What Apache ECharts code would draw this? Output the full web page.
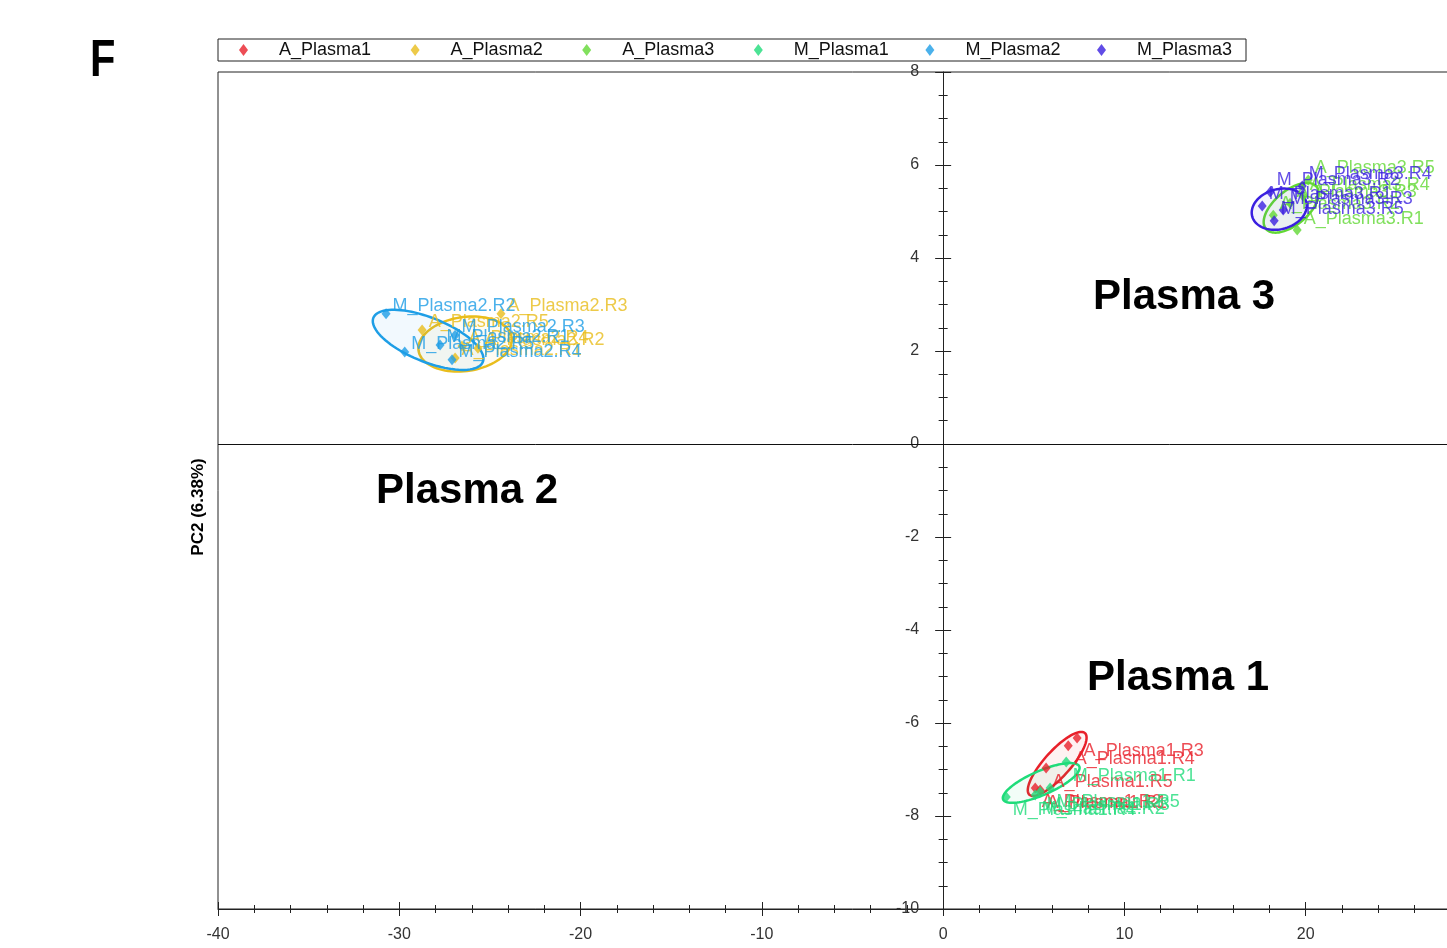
<!DOCTYPE html>
<html>
<head>
<meta charset="utf-8">
<script src="https://cdn.jsdelivr.net/npm/echarts@6/dist/echarts.min.js"></script>
<style>
html,body{margin:0;padding:0;overflow:hidden;background:#fff;}
#c{width:1500px;height:948px;}
</style>
</head>
<body>
<div id="c"></div>
<script>
// ---------- data ----------
const groups = ['A_Plasma1', 'A_Plasma2', 'A_Plasma3', 'M_Plasma1', 'M_Plasma2', 'M_Plasma3'];
const replicates = ['R1', 'R2', 'R3', 'R4', 'R5'];

// PC1, PC2 scores per replicate (R1..R5)
const A_Plasma1 = [[5.35, -7.44], [5.08, -7.40], [7.39, -6.32], [6.90, -6.49], [5.68, -6.97]];
const A_Plasma2 = [[-26.92, 1.85], [-25.66, 2.06], [-24.39, 2.80], [-26.54, 2.11], [-28.74, 2.45]];
const A_Plasma3 = [[19.53, 4.60], [18.21, 4.92], [19.14, 5.18], [19.86, 5.33], [20.14, 5.68]];
const M_Plasma1 = [[6.79, -6.84], [5.08, -7.55], [5.35, -7.48], [3.48, -7.59], [5.90, -7.40]];
const M_Plasma2 = [[-27.75, 2.13], [-30.73, 2.80], [-26.92, 2.34], [-27.09, 1.81], [-29.70, 1.98]];
const M_Plasma3 = [[17.60, 5.12], [18.04, 5.42], [18.76, 5.03], [19.81, 5.55], [18.26, 4.80]];

// confidence ellipses: [centerX, centerY, semiAxis1 dx, dy, semiAxis2 dx, dy] (data units)
const ellipse_A_Plasma1 = [6.29, -6.88, 1.532, 0.663, 0.533, -0.187];
const ellipse_A_Plasma2 = [-26.37, 2.15, 2.568, 0.141, 0.207, -0.575];
const ellipse_A_Plasma3 = [19.20, 5.08, 1.395, 0.456, 0.603, -0.280];
const ellipse_M_Plasma1 = [5.41, -7.29, 2.100, 0.356, 0.264, -0.237];
const ellipse_M_Plasma2 = [-28.41, 2.24, 3.018, -0.475, -0.455, -0.439];
const ellipse_M_Plasma3 = [18.54, 5.05, 1.492, 0.156, 0.286, -0.415];

const xRange = {min: -40, max: 30, interval: 10};
const yRange = {min: -10, max: 8, interval: 2};
const yAxisTitle = 'PC2 (6.38%)';
const panelLetter = 'F';
const regionLabels = ['Plasma 1', 'Plasma 2', 'Plasma 3'];

// ---------- styling ----------
const groupData = {A_Plasma1, A_Plasma2, A_Plasma3, M_Plasma1, M_Plasma2, M_Plasma3};
const groupEllipse = {
  A_Plasma1: ellipse_A_Plasma1, A_Plasma2: ellipse_A_Plasma2, A_Plasma3: ellipse_A_Plasma3,
  M_Plasma1: ellipse_M_Plasma1, M_Plasma2: ellipse_M_Plasma2, M_Plasma3: ellipse_M_Plasma3
};
const colors = {
  A_Plasma1: '#e8202a', A_Plasma2: '#e9bd1c', A_Plasma3: '#62d834',
  M_Plasma1: '#1fdc7a', M_Plasma2: '#1e9ee6', M_Plasma3: '#3a1fe0'
};
// vertical shift of point labels (px, relative to symbol box top)
const labelShift = {
  A_Plasma1: 19, M_Plasma1: 19,
  A_Plasma2: -2.5, M_Plasma2: -2.5,
  A_Plasma3: -6, M_Plasma3: -6
};
const FONT = '"Liberation Sans", Arial, sans-serif';
const GRID_LEFT = 218, GRID_TOP = 72, GRID_W = 1269, GRID_H = 837;
// y axis sits at x = 0 -> shift it right from grid's left edge
const Y_OFFSET = -GRID_W * (0 - xRange.min) / (xRange.max - xRange.min);

function rgba(hex, a) {
  const n = parseInt(hex.slice(1), 16);
  return 'rgba(' + ((n >> 16) & 255) + ',' + ((n >> 8) & 255) + ',' + (n & 255) + ',' + a + ')';
}

const series = [];
groups.forEach(function (g, gi) {
  const s = {
    name: g,
    type: 'scatter',
    z: 3,
    symbol: 'diamond',
    symbolSize: [9, 11],
    itemStyle: {color: colors[g]},
    label: {
      show: true,
      position: [11, labelShift[g]],
      align: 'left',
      verticalAlign: 'middle',
      color: colors[g],
      fontSize: 18,
      fontFamily: FONT,
      formatter: function (p) { return p.seriesName + '.' + p.name; }
    },
    labelLayout: {hideOverlap: false},
    data: groupData[g].map(function (v, i) { return {name: replicates[i], value: v}; })
  };
  if (gi === 0) {
    s.markLine = {
      silent: true, symbol: 'none', animation: false,
      label: {show: false},
      lineStyle: {color: '#111', width: 1, type: 'solid'},
      data: [{yAxis: 0}]
    };
  }
  series.push(s);
});
groups.forEach(function (g) {
  const c = colors[g];
  series.push({
    name: g,
    type: 'custom',
    z: 2,
    silent: true,
    dimensions: ['cx', 'cy', 'ux', 'uy', 'vx', 'vy'],
    encode: {x: 0, y: 1},
    data: [groupEllipse[g]],
    renderItem: function (params, api) {
      const cx = api.value(0), cy = api.value(1), ux = api.value(2), uy = api.value(3), vx = api.value(4), vy = api.value(5);
      const pts = [];
      for (let i = 0; i <= 90; i++) {
        const t = i / 90 * Math.PI * 2;
        pts.push(api.coord([cx + ux * Math.cos(t) + vx * Math.sin(t), cy + uy * Math.cos(t) + vy * Math.sin(t)]));
      }
      return {type: 'polygon', shape: {points: pts}, style: {fill: rgba(c, 0.06), stroke: c, lineWidth: 2.5}};
    }
  });
});

function xAxisDef(inside) {
  return {
    type: 'value', position: 'bottom', min: xRange.min, max: xRange.max, interval: xRange.interval,
    axisLine: {show: !inside, onZero: false, lineStyle: {color: '#222', width: 1}},
    axisTick: {show: true, inside: inside, length: 7, lineStyle: {color: '#222'}},
    minorTick: {show: true, splitNumber: 5, length: 4, lineStyle: {color: '#222'}},
    axisLabel: {show: !inside, margin: 18, color: '#333', fontSize: 16, fontFamily: FONT},
    splitLine: {show: false}
  };
}
function yAxisDef(inside) {
  return {
    type: 'value', position: 'left', offset: Y_OFFSET, min: yRange.min, max: yRange.max, interval: yRange.interval,
    axisLine: {show: !inside, onZero: false, lineStyle: {color: '#222', width: 1}},
    axisTick: {show: true, inside: inside, length: 8, lineStyle: {color: '#222'}},
    minorTick: {show: true, splitNumber: 4, length: 4.5, lineStyle: {color: '#222'}},
    axisLabel: {show: !inside, margin: 24, color: '#333', fontSize: 16, fontFamily: FONT},
    splitLine: {show: false}
  };
}

const option = {
  animation: false,
  backgroundColor: '#fff',
  grid: {left: GRID_LEFT, top: GRID_TOP, width: GRID_W, height: GRID_H, show: true, borderColor: '#222', borderWidth: 1, backgroundColor: 'transparent'},
  legend: {
    data: groups.map(function (g) { return {name: g, icon: 'diamond'}; }),
    left: 218, top: 39,
    orient: 'horizontal',
    itemWidth: 9, itemHeight: 12, itemGap: 31.6,
    padding: [2, 9, 2, 21],
    borderColor: '#222', borderWidth: 1,
    selectedMode: false,
    textStyle: {color: '#111', fontSize: 18, fontFamily: FONT, lineHeight: 18, width: 100, padding: [0, 0, 0, 26]}
  },
  xAxis: [xAxisDef(false), xAxisDef(true)],
  yAxis: [yAxisDef(false), yAxisDef(true)],
  graphic: [
    {type: 'text', x: 90, y: 36, scaleX: 0.8, style: {text: panelLetter, font: 'bold 52px ' + FONT, fill: '#000', verticalAlign: 'top'}},
    {type: 'text', x: 198, y: 507, rotation: Math.PI / 2, style: {text: yAxisTitle, font: 'bold 17px ' + FONT, fill: '#000', align: 'center', verticalAlign: 'middle'}},
    {type: 'text', x: 1093, y: 297, style: {text: regionLabels[2], font: 'bold 42px ' + FONT, fill: '#000', verticalAlign: 'middle'}},
    {type: 'text', x: 376, y: 491, style: {text: regionLabels[1], font: 'bold 42px ' + FONT, fill: '#000', verticalAlign: 'middle'}},
    {type: 'text', x: 1087, y: 678, style: {text: regionLabels[0], font: 'bold 42px ' + FONT, fill: '#000', verticalAlign: 'middle'}}
  ],
  series: series
};

const chart = echarts.init(document.getElementById('c'), null, {renderer: 'canvas'});
chart.setOption(option);
</script>
</body>
</html>
